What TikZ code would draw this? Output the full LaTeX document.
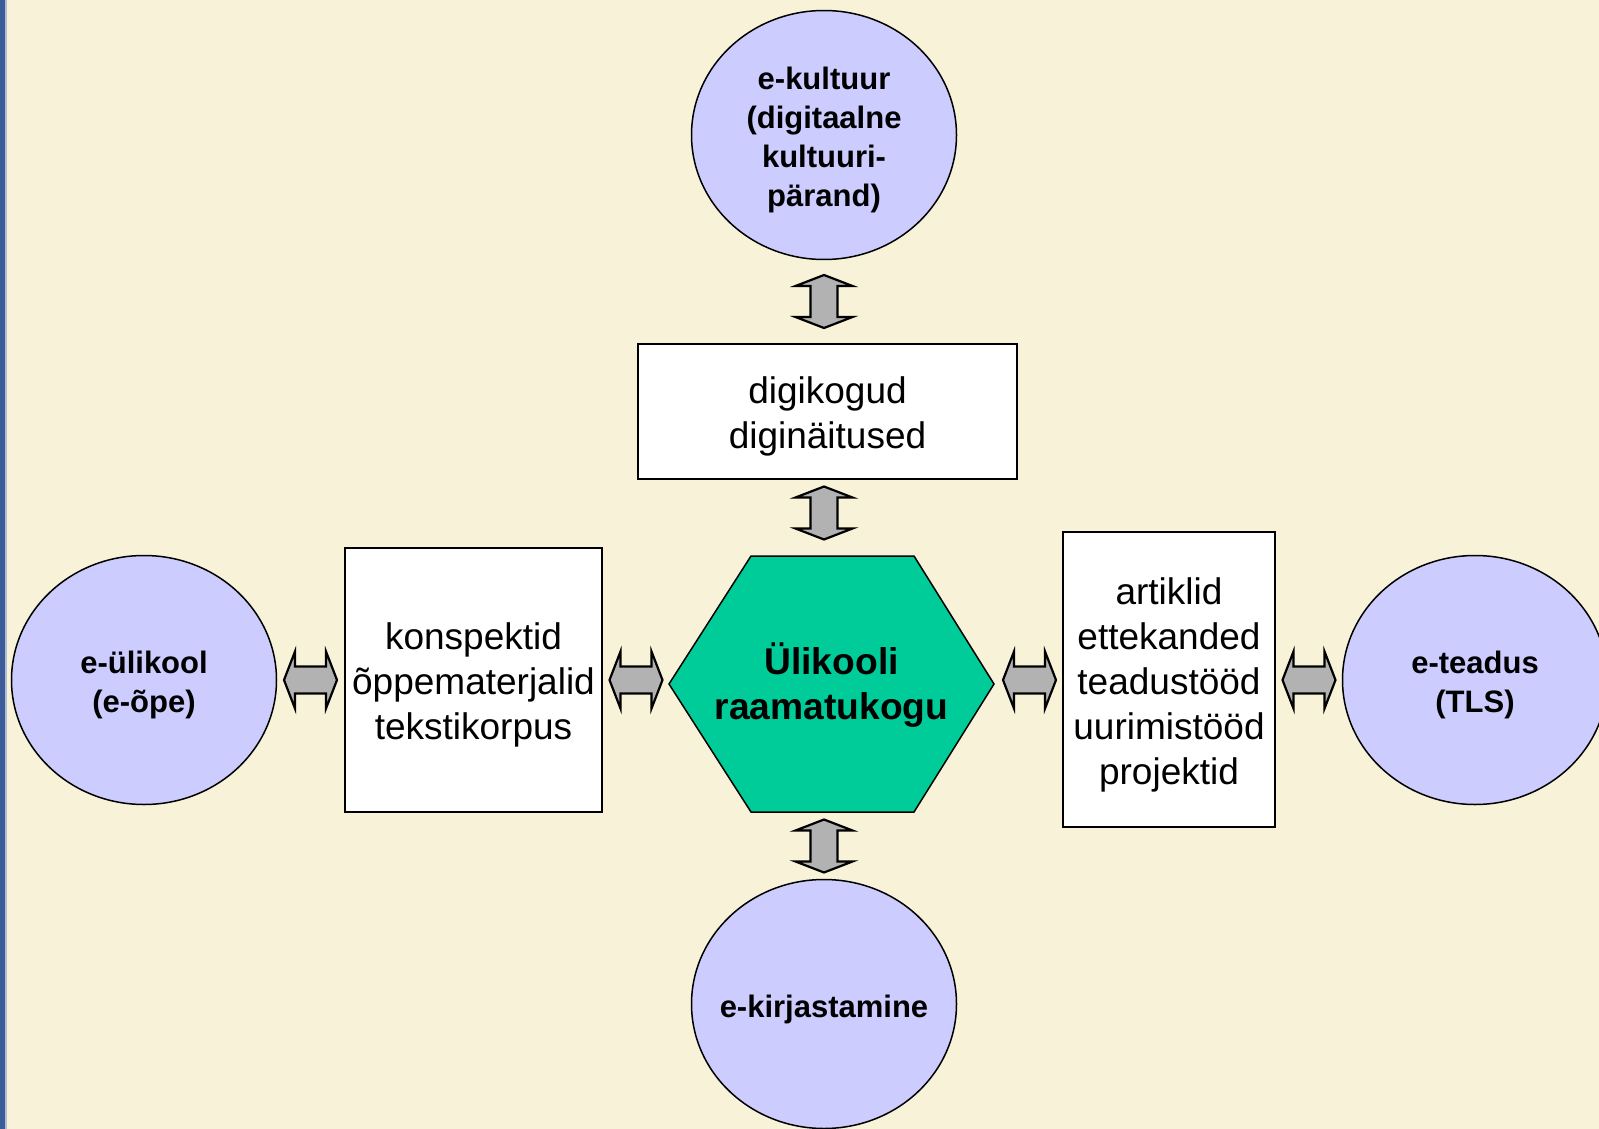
\documentclass[tikz,border=0pt]{standalone}
\usepackage{fontspec}
\setmainfont{Liberation Sans}
\usetikzlibrary{shapes.geometric}
\definecolor{bg}{HTML}{F8F3D8}
\definecolor{lav}{HTML}{CCCCFF}
\definecolor{hexg}{HTML}{00CC99}
\definecolor{bar}{HTML}{3B5C99}
\definecolor{arrg}{HTML}{B2B2B2}
\tikzset{
  circ/.style={ellipse, draw=black, line width=1.5pt, fill=lav, minimum width=265pt, minimum height=249pt, inner sep=0pt},
  circtext/.style={inner sep=0pt, align=center, font=\fontsize{31}{38.8}\selectfont\bfseries},
  txtbox/.style={rectangle, draw=black, line width=1.5pt, fill=white, inner sep=0pt},
  boxtext/.style={inner sep=0pt, align=center, font=\fontsize{37}{45}\selectfont},
  arrowstyle/.style={draw=black, line width=2.2pt, fill=arrg, line join=miter},
  darrow/.pic={\path[arrowstyle] (-26.5,0) -- (-15.5,-28.5) -- (-15.5,-13.5) -- (15.5,-13.5) -- (15.5,-28.5) -- (26.5,0) -- (15.5,28.5) -- (15.5,13.5) -- (-15.5,13.5) -- (-15.5,28.5) -- cycle;}
}
\begin{document}
\begin{tikzpicture}[x=1pt,y=-1pt]
\useasboundingbox (0,0) rectangle (1599,1129);
\clip (0,0) rectangle (1599,1129);
\fill[bg] (0,0) rectangle (1599,1129);
\fill[bar] (0,0) rectangle (5,1129);
\fill[bar!40!white] (5,0) rectangle (6.5,1129);

% circles
\node[circ] (ekult) at (824,135) {};
\node[circtext] (ekult-t) at (824,140) {e-kultuur\\(digitaalne\\kultuuri-\\pärand)};
\node[circ] (eulik) at (144,680) {};
\node[circtext] (eulik-t) at (144,685) {e-ülikool\\(e-õpe)};
\node[circ] (eteadus) at (1475,680) {};
\node[circtext] (eteadus-t) at (1475,685) {e-teadus\\(TLS)};
\node[circ] (ekirj) at (824,1004) {};
\node[circtext] (ekirj-t) at (824,1009) {e-kirjastamine};

% boxes
\node[txtbox, minimum width=379pt, minimum height=135pt] (digi) at (827.5,411.5) {};
\node[boxtext] (digi-t) at (827.5,416.5) {digikogud\\diginäitused};
\node[txtbox, minimum width=257pt, minimum height=264pt] (konsp) at (473.5,680) {};
\node[boxtext] (konsp-t) at (473.5,685) {konspektid\\õppematerjalid\\tekstikorpus};
\node[txtbox, minimum width=212pt, minimum height=295pt] (artik) at (1169,679.5) {};
\node[boxtext] (artik-t) at (1169,684.5) {artiklid\\ettekanded\\teadustööd\\uurimistööd\\projektid};

% hexagon
\path[draw=black, line width=1.5pt, fill=hexg] (669,684) -- (751,556) -- (914,556) -- (994,684) -- (914,812) -- (751,812) -- cycle;
\node[inner sep=0pt, align=center, font=\fontsize{37.2}{45}\selectfont\bfseries] (hex) at (831.5,685) {Ülikooli\\raamatukogu};

% arrows
\coordinate (a1) at (824,301.5);
\coordinate (a2) at (824,513);
\coordinate (a3) at (824,846);
\coordinate (a4) at (310.5,680);
\coordinate (a5) at (636,680);
\coordinate (a6) at (1029.5,680);
\coordinate (a7) at (1309,680);
\pic[rotate=90] at (a1) {darrow};
\pic[rotate=90] at (a2) {darrow};
\pic[rotate=90] at (a3) {darrow};
\pic at (a4) {darrow};
\pic at (a5) {darrow};
\pic at (a6) {darrow};
\pic at (a7) {darrow};
\end{tikzpicture}
\end{document}
